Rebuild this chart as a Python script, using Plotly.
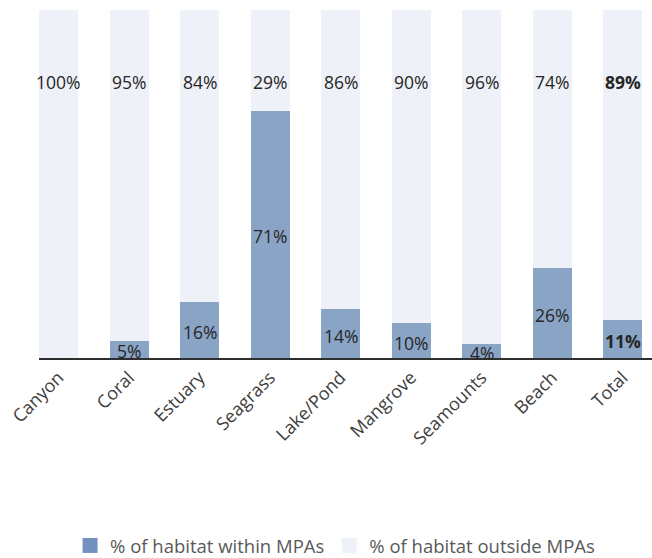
import plotly.graph_objects as go

categories = ["Canyon", "Coral", "Estuary", "Seagrass", "Lake/Pond",
              "Mangrove", "Seamounts", "Beach", "Total"]
within_mpa = [0, 5, 16, 71, 14, 10, 4, 26, 11]
outside_mpa = [100, 95, 84, 29, 86, 90, 96, 74, 89]

tick_labels = categories
series_names = ["% of habitat within MPAs", "% of habitat outside MPAs"]

BLUE = "#8aa4c5"
BLUE_KEY = "#7191bf"
LIGHT = "#eef1f7"
FONT = "Open Sans"

fig = go.Figure()
fig.add_trace(go.Bar(x=categories, y=within_mpa, name=series_names[0], showlegend=False,
                     marker=dict(color=BLUE, line=dict(width=0))))
fig.add_trace(go.Bar(x=categories, y=outside_mpa, name=series_names[1], showlegend=False,
                     marker=dict(color=LIGHT, line=dict(width=0))))

# legend keys as larger square markers
for name, col in zip(series_names, [BLUE_KEY, LIGHT]):
    fig.add_trace(go.Scatter(x=[None], y=[None], mode="markers", name=name,
                             marker=dict(symbol="square", size=15, color=col,
                                         line=dict(width=0))))

annotations = []
for cat, w, o in zip(categories, within_mpa, outside_mpa):
    bold = cat == "Total"
    fmt = (lambda v: f"<b>{v}%</b>") if bold else (lambda v: f"{v}%")
    annotations.append(dict(x=cat, y=79.3, text=fmt(o), showarrow=False,
                            font=dict(family=FONT, size=17.5, color="#262626")))
    if w > 0:
        annotations.append(dict(x=cat, y=w / 2, yshift=-2, text=fmt(w), showarrow=False,
                                font=dict(family=FONT, size=17.5, color="#262626")))

fig.update_layout(
    barmode="stack",
    bargap=0.447,
    width=652, height=558,
    margin=dict(l=39, r=0, t=10, b=200, autoexpand=False),
    plot_bgcolor="white", paper_bgcolor="white",
    font=dict(family=FONT, size=17, color="#404040"),
    annotations=annotations,
    showlegend=True,
    legend=dict(orientation="h", x=0.483, xanchor="center", y=-0.54, yanchor="middle",
                font=dict(family=FONT, size=18.5, color="#595959"),
                traceorder="normal", itemwidth=30),
    xaxis=dict(range=[-0.277, 8.418], tickangle=-45, tickvals=categories,
               ticktext=tick_labels, showline=True, linecolor="#2e2e2e", linewidth=2,
               ticks="", showgrid=False, automargin=False, zeroline=False,
               tickfont=dict(family=FONT, size=18, color="#404040")),
    yaxis=dict(range=[0, 100], visible=False, showgrid=False, automargin=False),
)

fig.write_html("out.html")
